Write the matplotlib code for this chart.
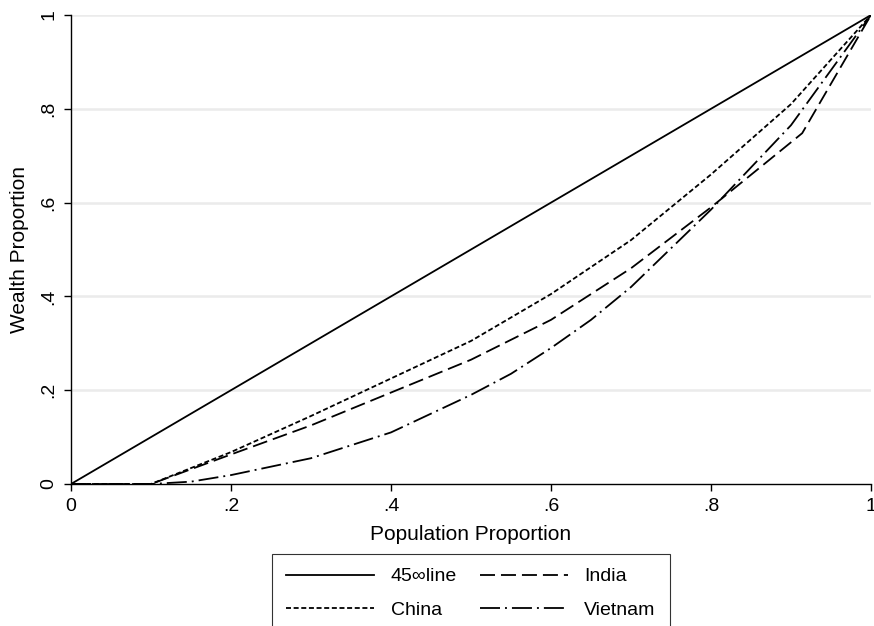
import numpy as np
import matplotlib
matplotlib.use("Agg")
import matplotlib.pyplot as plt

# Lorenz curves
pop = [0.0, 1.0]
line45 = [0.0, 1.0]

china_x = [0.0, 0.1, 0.2, 0.3, 0.4, 0.5, 0.6, 0.7, 0.8, 0.9, 1.0]
china_y = [0.0, 0.0, 0.068, 0.145, 0.225, 0.305, 0.405, 0.52, 0.66, 0.81, 1.0]

india_x = [0.0, 0.1, 0.2, 0.3, 0.4, 0.5, 0.6, 0.7, 0.8, 0.914, 1.0]
india_y = [0.0, 0.0, 0.063, 0.125, 0.195, 0.265, 0.35, 0.46, 0.59, 0.748, 1.0]

vietnam_x = [0.0, 0.1, 0.15, 0.2, 0.3, 0.4, 0.5, 0.55, 0.6, 0.65, 0.7, 0.8, 0.9, 1.0]
vietnam_y = [0.0, 0.0, 0.005, 0.019, 0.055, 0.11, 0.19, 0.235, 0.29, 0.35, 0.42, 0.585, 0.765, 1.0]

ticks = [0, 0.2, 0.4, 0.6, 0.8, 1.0]
tick_labels = ["0", ".2", ".4", ".6", ".8", "1"]

plt.rcParams["font.family"] = ["Liberation Sans", "DejaVu Sans"]
plt.rcParams["lines.scale_dashes"] = False

fig = plt.figure(figsize=(8.74, 6.26), dpi=100)
ax = fig.add_axes([71 / 874, 1 - 484 / 626, 800 / 874, 469 / 626])

for t in ticks[1:]:
    ax.axhline(t, color="#ebebeb", lw=1.8, zorder=0)

lw = 1.3
h1, = ax.plot(pop, line45, color="black", lw=lw)
h2, = ax.plot(india_x, india_y, color="black", lw=lw, linestyle=(0, (10.8, 4.3)))
h3, = ax.plot(china_x, china_y, color="black", lw=lw, linestyle=(0, (3.6, 1.9)))
h4, = ax.plot(vietnam_x, vietnam_y, color="black", lw=lw,
              linestyle=(0, (14.4, 3.6, 1.4, 3.6)))

ax.set_xlim(0, 1)
ax.set_ylim(0, 1)
ax.set_xticks(ticks)
ax.set_xticklabels(tick_labels, fontsize=14)
ax.set_yticks(ticks)
ax.set_yticklabels(tick_labels, fontsize=14, rotation=90, va="center")
ax.tick_params(direction="out", length=5, width=1, colors="black", pad=5)
ax.spines["top"].set_visible(False)
ax.spines["right"].set_visible(False)
ax.spines["left"].set_linewidth(1)
ax.spines["bottom"].set_linewidth(1)
ax.set_xlabel("Population Proportion", fontsize=15, labelpad=7)
ax.set_ylabel("Wealth Proportion", fontsize=15, labelpad=8)

leg = ax.legend([h1, h3, h2, h4], ["45\u221eline", "China", "India", "Vietnam"],
                ncol=2, loc="upper center", bbox_to_anchor=(0.5, -0.149),
                fontsize=14, frameon=True, fancybox=False, edgecolor="black",
                handlelength=4.5, handletextpad=0.85, columnspacing=1.2,
                borderpad=0.72, labelspacing=0.8, borderaxespad=0)
leg.get_frame().set_linewidth(0.8)

fig.savefig("out.png", dpi=100)
